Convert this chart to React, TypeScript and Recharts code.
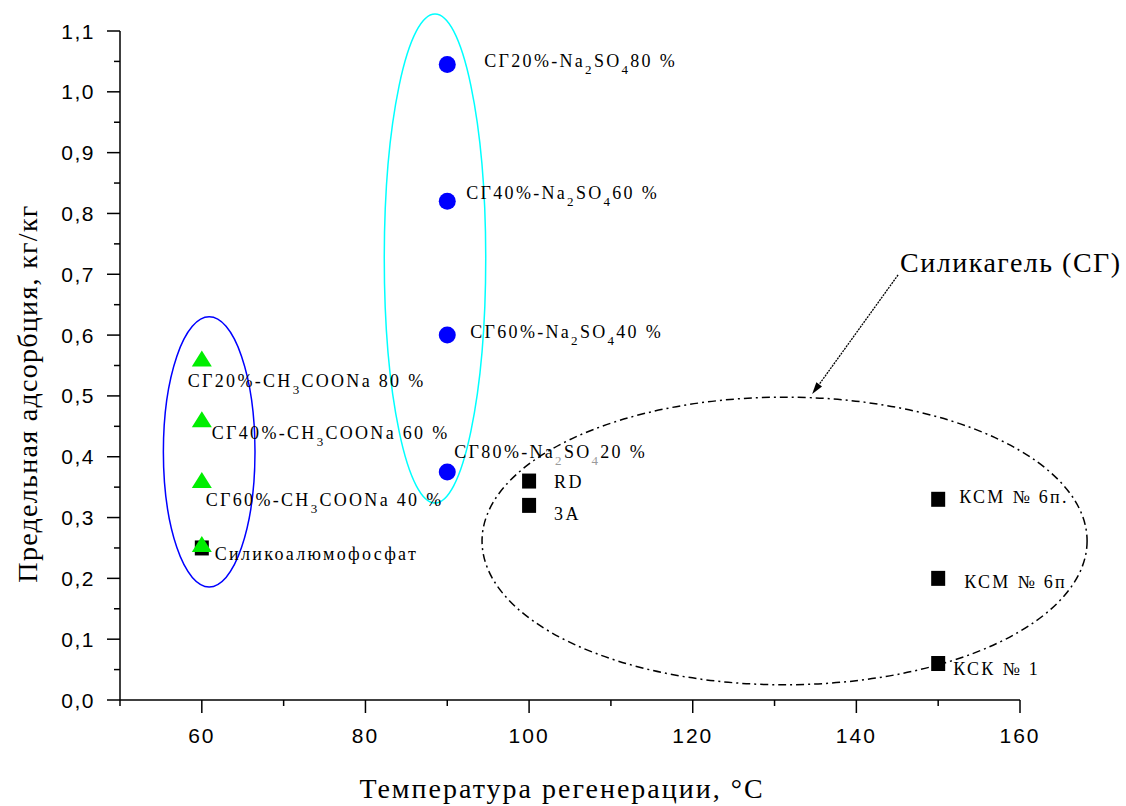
import React from 'react';
import {
  ScatterChart, Scatter, XAxis, YAxis, ReferenceArea, ReferenceLine
} from 'recharts';

// axis ticks (empty label = minor tick)
const xTicks = [50, 60, 70, 80, 90, 100, 110, 120, 130, 140, 150, 160];
const xTickLabels = ['', '60', '', '80', '', '100', '', '120', '', '140', '', '160'];
const yTicks = [0, 0.05, 0.1, 0.15, 0.2, 0.25, 0.3, 0.35, 0.4, 0.45, 0.5, 0.55, 0.6, 0.65, 0.7, 0.75, 0.8, 0.85, 0.9, 0.95, 1.0, 1.05, 1.1];
const yTickLabels = ['0,0', '', '0,1', '', '0,2', '', '0,3', '', '0,4', '', '0,5', '', '0,6', '', '0,7', '', '0,8', '', '0,9', '', '1,0', '', '1,1'];

// silica gel + Na2SO4 (blue circles)
const sulfateTemp = [90, 90, 90, 90];
const sulfateUptake = [1.045, 0.82, 0.6, 0.375];
const sulfateNames = ['СГ20%-Na_{2}SO_{4}80 %', 'СГ40%-Na_{2}SO_{4}60 %', 'СГ60%-Na_{2}SO_{4}40 %', 'СГ80%-Na_{2}SO_{4}20 %'];

// silica gel + CH3COONa (green triangles)
const acetateTemp = [60, 60, 60, 60];
const acetateUptake = [0.56, 0.46, 0.36, 0.255];
const acetateNames = ['СГ20%-CH_{3}COONa 80 %', 'СГ40%-CH_{3}COONa 60 %', 'СГ60%-CH_{3}COONa 40 %', ''];

// plain sorbents (black squares)
const sorbentTemp = [60, 100, 100, 150, 150, 150];
const sorbentUptake = [0.25, 0.36, 0.32, 0.33, 0.2, 0.06];
const sorbentNames = ['Силикоалюмофосфат', 'RD', '3А', 'КСМ № 6п.', 'КСМ № 6п', 'КСК № 1'];

// group outlines: [x1, x2, y1, y2]
const acetateOutline = [55.3, 66.5, 0.186, 0.63];
const sulfateOutline = [82.3, 94.7, 0.324, 1.128];
const silicaOutline = [94.25, 168.2, 0.025, 0.498];

// pointer to the silica gel group
const pointerFrom = { x: 145.1, y: 0.699 };
const pointerTo = { x: 134.6, y: 0.503 };
const pointerText = 'Силикагель (СГ)';

const xTitle = 'Температура регенерации, °C';
const yTitle = 'Предельная адсорбция, кг/кг';

// label placement relative to the marker, px
const sulfateShift = [[37, 3], [19, -2], [23, 3], [7, -14]];
const acetateShift = [[-14, 28], [10, 19], [4, 25], [0, 0]];
const sorbentShift = [[13, 12], [25, 7], [25, 15], [21, 4], [26, 10], [15, 11]];

const toRows = (xs: number[], ys: number[], names: string[]) =>
  xs.map((x, i) => ({ x, y: ys[i], name: names[i], i }));

const sulfateData = toRows(sulfateTemp, sulfateUptake, sulfateNames);
const acetateData = toRows(acetateTemp, acetateUptake, acetateNames);
const sorbentData = toRows(sorbentTemp, sorbentUptake, sorbentNames);

const labelStyle: React.CSSProperties = {
  fontFamily: '"Liberation Serif", "DejaVu Serif", serif',
  fontSize: 18,
  letterSpacing: 2.3,
};

const tickFont = '"Liberation Sans", Arial, sans-serif';
const titleFont = '"Liberation Serif", "Times New Roman", serif';

const RichLabel = ({ x, y, text, subFill = '#000' }: { x: number; y: number; text: string; subFill?: string }) => {
  if (!text) return null;
  const parts = text.split(/(_\{[^}]*\})/).filter(Boolean);
  let lowered = false;
  return (
    <text x={x} y={y} fill="#000" style={labelStyle}>
      {parts.map((p, k) => {
        if (p.startsWith('_{')) {
          const dy = lowered ? 0 : 7;
          lowered = true;
          return <tspan key={k} dy={dy} fontSize={13} fill={subFill}>{p.slice(2, -1)}</tspan>;
        }
        const dy = lowered ? -7 : 0;
        lowered = false;
        return <tspan key={k} dy={dy}>{p}</tspan>;
      })}
    </text>
  );
};

const CircleMark = (props: any) => {
  const { cx, cy, payload } = props;
  const [dx, dy] = sulfateShift[payload.i];
  return (
    <g>
      <circle cx={cx} cy={cy} r={8.5} fill="#0000ff" />
      <RichLabel x={cx + dx} y={cy + dy} text={payload.name} subFill={payload.i === 3 ? '#9a9a9a' : '#000'} />
    </g>
  );
};

const TriangleMark = (props: any) => {
  const { cx, cy, payload } = props;
  const [dx, dy] = acetateShift[payload.i];
  return (
    <g>
      <polygon points={`${cx - 10},${cy + 7} ${cx + 10},${cy + 7} ${cx},${cy - 9}`} fill="#00ee00" />
      <RichLabel x={cx + dx} y={cy + dy} text={payload.name} />
    </g>
  );
};

const SquareMark = (props: any) => {
  const { cx, cy, payload } = props;
  const [dx, dy] = sorbentShift[payload.i];
  return (
    <g>
      <rect x={cx - 7} y={cy - 7.5} width={14} height={15} fill="#000" />
      <RichLabel x={cx + dx} y={cy + dy} text={payload.name} />
    </g>
  );
};

const XTick = (props: any) => {
  const { x, y, payload } = props;
  const label = xTickLabels[xTicks.indexOf(payload.value)] ?? '';
  const major = label !== '';
  return (
    <g>
      <line x1={x} x2={x} y1={y} y2={y + (major ? 13 : 6)} stroke="#000" strokeWidth={1.5} />
      {major && (
        <text x={x} y={y + 43} textAnchor="middle" fill="#000" fontFamily={tickFont} fontSize={21} letterSpacing={2}>
          {label}
        </text>
      )}
    </g>
  );
};

const YTick = (props: any) => {
  const { x, y, payload } = props;
  const label = yTickLabels[yTicks.indexOf(payload.value)] ?? '';
  const major = label !== '';
  return (
    <g>
      <line x1={x - (major ? 13 : 6)} x2={x} y1={y} y2={y} stroke="#000" strokeWidth={1.5} />
      {major && (
        <text x={x - 25} y={y + 7.5} textAnchor="end" fill="#000" fontFamily={tickFont} fontSize={21} letterSpacing={1.5}>
          {label}
        </text>
      )}
    </g>
  );
};

const ellipseShape = (stroke: string, dash?: string) => (p: any) => (
  <ellipse
    cx={p.x + p.width / 2}
    cy={p.y + p.height / 2}
    rx={Math.abs(p.width) / 2}
    ry={Math.abs(p.height) / 2}
    fill="none"
    stroke={stroke}
    strokeWidth={1.5}
    strokeDasharray={dash}
  />
);

const PointerShape = (p: any) => {
  const { x1, y1, x2, y2 } = p;
  const len = Math.hypot(x2 - x1, y2 - y1) || 1;
  const ux = (x2 - x1) / len;
  const uy = (y2 - y1) / len;
  const bx = x2 - ux * 12;
  const by = y2 - uy * 12;
  return (
    <g>
      <line x1={x1} y1={y1} x2={bx} y2={by} stroke="#000" strokeWidth={1.3} strokeDasharray="2 1" />
      <polygon
        points={`${x2},${y2} ${bx - uy * 3.5},${by + ux * 3.5} ${bx + uy * 3.5},${by - ux * 3.5}`}
        fill="#000"
      />
      <text x={x1 + 2} y={y1 - 3} fill="#000" fontFamily={titleFont} fontSize={28} letterSpacing={1.5}>
        {pointerText}
      </text>
    </g>
  );
};

export default function App() {
  return (
    <div style={{ position: 'absolute', left: 0, top: 0, width: 1126, height: 806, background: '#fff' }}>
      <ScatterChart width={1126} height={806} margin={{ top: 31, right: 106, bottom: 0, left: 0 }}>
        <XAxis
          type="number"
          dataKey="x"
          domain={[50, 160]}
          ticks={xTicks}
          interval={0}
          height={106}
          tickSize={0}
          tickMargin={0}
          tickLine={false}
          tick={<XTick />}
          axisLine={{ stroke: '#000', strokeWidth: 1.5 }}
          label={(lp: any) => {
            const vb = lp.viewBox;
            return (
              <text x={vb.x + vb.width / 2 - 8} y={vb.y + 98} textAnchor="middle" fill="#000" fontFamily={titleFont} fontSize={28} letterSpacing={2}>
                {xTitle}
              </text>
            );
          }}
        />
        <YAxis
          type="number"
          dataKey="y"
          domain={[0, 1.1]}
          ticks={yTicks}
          interval={0}
          width={120}
          tickSize={0}
          tickMargin={0}
          tickLine={false}
          tick={<YTick />}
          axisLine={{ stroke: '#000', strokeWidth: 1.5 }}
          label={(lp: any) => {
            const vb = lp.viewBox;
            const cx = 37;
            const cy = vb.y + vb.height / 2 + 28;
            return (
              <text x={cx} y={cy} transform={`rotate(-90 ${cx} ${cy})`} textAnchor="middle" fill="#000" fontFamily={titleFont} fontSize={28} letterSpacing={1.3}>
                {yTitle}
              </text>
            );
          }}
        />
        <ReferenceArea
          x1={acetateOutline[0]} x2={acetateOutline[1]} y1={acetateOutline[2]} y2={acetateOutline[3]}
          ifOverflow="visible"
          shape={ellipseShape('#0000ff')}
        />
        <ReferenceArea
          x1={sulfateOutline[0]} x2={sulfateOutline[1]} y1={sulfateOutline[2]} y2={sulfateOutline[3]}
          ifOverflow="visible"
          shape={ellipseShape('#00ffff')}
        />
        <ReferenceArea
          x1={silicaOutline[0]} x2={silicaOutline[1]} y1={silicaOutline[2]} y2={silicaOutline[3]}
          ifOverflow="visible"
          shape={ellipseShape('#000', '8 4 2 4')}
        />
        <ReferenceLine
          segment={[pointerFrom, pointerTo]}
          ifOverflow="visible"
          shape={PointerShape}
        />
        <Scatter data={sorbentData} shape={<SquareMark />} isAnimationActive={false} />
        <Scatter data={acetateData} shape={<TriangleMark />} isAnimationActive={false} />
        <Scatter data={sulfateData} shape={<CircleMark />} isAnimationActive={false} />
      </ScatterChart>
    </div>
  );
}
